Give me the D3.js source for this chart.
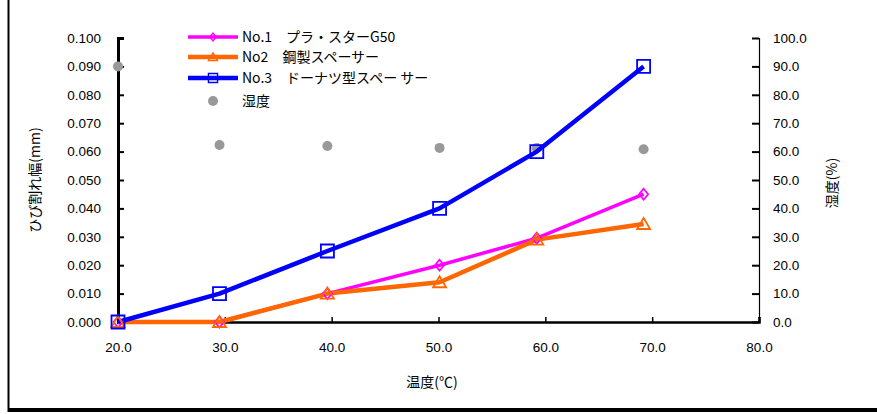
<!DOCTYPE html>
<html><head><meta charset="utf-8">
<script src="https://cdn.jsdelivr.net/npm/d3@7"></script>
<style>body{margin:0;background:#fff}svg{display:block}</style>
</head><body>
<svg id="c" width="877" height="414"></svg>
<script>
const temps = [20.0, 29.5, 39.6, 50.1, 59.2, 69.2];
const no1 = [0.000, 0.000, 0.010, 0.020, 0.0295, 0.045];
const no2 = [0.000, 0.000, 0.010, 0.014, 0.029, 0.0345];
const no3 = [0.000, 0.010, 0.025, 0.040, 0.060, 0.090];
const humidity = [90.0, 62.3, 62.0, 61.3, 61.3, 60.8];
const seriesNames = ["No.1\u3000プラ・スターG50", "No2\u3000鋼製スペーサー", "No.3\u3000ドーナツ型スペー サー", "湿度"];
const xTicks = [20, 30, 40, 50, 60, 70, 80];
const yTicks = [0, 0.01, 0.02, 0.03, 0.04, 0.05, 0.06, 0.07, 0.08, 0.09, 0.1];
const y2Ticks = [0, 10, 20, 30, 40, 50, 60, 70, 80, 90, 100];

const svg = d3.select("#c");
const font = "'Liberation Sans', 'Noto Sans CJK JP', sans-serif";
const jfont = "'Noto Sans CJK JP', sans-serif";
const L = 118, R = 759, T = 38, B = 322;
const x = d3.scaleLinear().domain([20, 80]).range([L, R]);
const y = d3.scaleLinear().domain([0, 0.1]).range([B, T]);
const y2 = d3.scaleLinear().domain([0, 100]).range([B, T]);

// outer frame
svg.append("line").attr("x1", 8.5).attr("x2", 8.5).attr("y1", 0).attr("y2", 412).attr("stroke", "#000").attr("stroke-width", 2);
svg.append("line").attr("x1", 8).attr("x2", 877).attr("y1", 410).attr("y2", 410).attr("stroke", "#000").attr("stroke-width", 4);

// axes
const gx = svg.append("g").attr("transform", `translate(0,${B})`)
  .call(d3.axisBottom(x).tickValues(xTicks).tickSize(-5).tickFormat(d3.format(".1f")).tickPadding(20));
gx.select(".domain").attr("stroke-width", 2.5);
gx.selectAll(".tick line").attr("stroke-width", 1.5);
const gy = svg.append("g").attr("transform", `translate(${L},0)`)
  .call(d3.axisLeft(y).tickValues(yTicks).tickSize(-6).tickFormat(d3.format(".3f")).tickPadding(17));
gy.select(".domain").attr("stroke-width", 3);
gy.selectAll(".tick line").attr("stroke-width", 2);
const gy2 = svg.append("g").attr("transform", `translate(${R},0)`)
  .call(d3.axisRight(y2).tickValues(y2Ticks).tickSize(-7).tickFormat(d3.format(".1f")).tickPadding(14));
gy2.select(".domain").attr("stroke-width", 1.2);
gy2.selectAll(".tick line").attr("stroke-width", 2);
svg.selectAll(".tick text").attr("font-family", font).attr("font-size", 13.5).attr("fill", "#000");

// axis titles
svg.append("text").attr("transform", `translate(40,180) rotate(-90)`).attr("text-anchor", "middle")
  .attr("font-family", jfont).attr("font-size", 14).text("ひび割れ幅(mm)");
svg.append("text").attr("transform", `translate(837,183) rotate(-90)`).attr("text-anchor", "middle")
  .attr("font-family", jfont).attr("font-size", 14).text("湿度(%)");
svg.append("text").attr("x", 432).attr("y", 387).attr("text-anchor", "middle")
  .attr("font-family", jfont).attr("font-size", 14).text("温度(℃)");

// humidity dots
svg.selectAll(".hum").data(temps).join("circle")
  .attr("cx", (d) => x(d)).attr("cy", (d, i) => y2(humidity[i])).attr("r", 5).attr("fill", "#999");

const line = d3.line().x((d) => x(d[0])).y((d) => y(d[1])).curve(d3.curveLinear);
const series = [
  {vals: no1, color: "#FF00FF", w: 3.5, marker: "diamond"},
  {vals: no2, color: "#FF6600", w: 4.5, marker: "triangle"},
  {vals: no3, color: "#0000FF", w: 4.5, marker: "square"}
];
function markerPath(type) {
  if (type === "diamond") return "M0,-5.5L4.5,0L0,5.5L-4.5,0Z";
  if (type === "triangle") return "M0,-6L6.5,5L-6.5,5Z";
  return "M-6.5,-6.5H6.5V6.5H-6.5Z";
}
series.forEach(s => {
  const pts = temps.map((t, i) => [t, s.vals[i]]);
  svg.append("path").attr("d", line(pts)).attr("fill", "none").attr("stroke", s.color)
    .attr("stroke-width", s.w).attr("stroke-linejoin", "round");
});
series.forEach(s => {
  svg.selectAll(null).data(temps).join("path")
    .attr("transform", (d, i) => `translate(${x(d)},${y(s.vals[i])})`)
    .attr("d", markerPath(s.marker)).attr("fill", "none").attr("stroke", s.color).attr("stroke-width", 1.8);
});

// legend
const legY = [37, 57, 78, 101];
series.forEach((s, i) => {
  svg.append("line").attr("x1", 188).attr("x2", 238).attr("y1", legY[i]).attr("y2", legY[i])
    .attr("stroke", s.color).attr("stroke-width", s.w);
  svg.append("path").attr("transform", `translate(213,${legY[i]}) scale(0.7)`).attr("d", markerPath(s.marker))
    .attr("fill", "none").attr("stroke", s.color).attr("stroke-width", 2);
  svg.append("text").attr("x", 242).attr("y", legY[i] + 5).attr("font-family", jfont).attr("font-size", 14).text(seriesNames[i]);
});
svg.append("circle").attr("cx", 213).attr("cy", legY[3]).attr("r", 5).attr("fill", "#999");
svg.append("text").attr("x", 242).attr("y", legY[3] + 5).attr("font-family", jfont).attr("font-size", 14).text(seriesNames[3]);
</script>
</body></html>
